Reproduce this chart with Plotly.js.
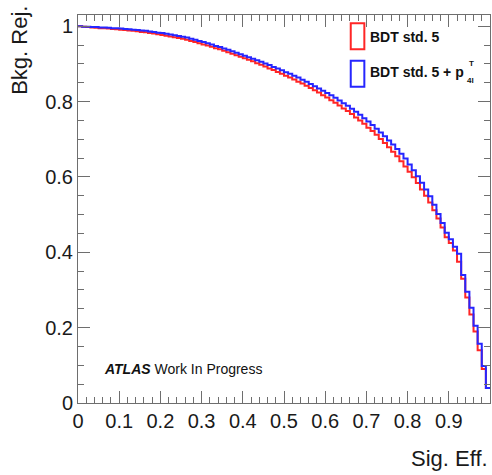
<!DOCTYPE html>
<html>
<head>
<meta charset="utf-8">
<script src="https://cdn.plot.ly/plotly-3.0.1.min.js"></script>
<style>html,body{margin:0;padding:0;background:#fff;}#chart{width:492px;height:475px;}</style>
</head>
<body>
<div id="chart"></div>
<script>
// Signal efficiency binning: 100 bins from 0 to 1
const nBins = 100;
const binLow = 0.0;
const binHigh = 1.0;

// Background rejection per bin, "BDT std. 5" (red)
const rejBDT = [
  1.000, 0.999, 0.998, 0.997, 0.996, 0.995, 0.995, 0.994, 0.993, 0.992,
  0.991, 0.990, 0.989, 0.988, 0.987, 0.985, 0.984, 0.982, 0.981, 0.979,
  0.977, 0.975, 0.973, 0.971, 0.969, 0.967, 0.964, 0.961, 0.958, 0.955,
  0.952, 0.949, 0.946, 0.942, 0.939, 0.935, 0.931, 0.927, 0.923, 0.919,
  0.915, 0.911, 0.907, 0.902, 0.898, 0.893, 0.888, 0.884, 0.879, 0.874,
  0.869, 0.864, 0.859, 0.853, 0.848, 0.842, 0.836, 0.830, 0.824, 0.817,
  0.811, 0.804, 0.797, 0.790, 0.782, 0.775, 0.767, 0.758, 0.750, 0.741,
  0.731, 0.722, 0.712, 0.701, 0.690, 0.679, 0.667, 0.655, 0.642, 0.628,
  0.614, 0.599, 0.584, 0.567, 0.550, 0.532, 0.512, 0.490, 0.466, 0.440,
  0.425, 0.405, 0.375, 0.330, 0.280, 0.235, 0.190, 0.140, 0.090, 0.040
];

// Background rejection per bin, "BDT std. 5 + pT4l" (blue)
const rejBDTpT = [
  1.000, 0.999, 0.999, 0.998, 0.998, 0.997, 0.997, 0.996, 0.995, 0.995,
  0.994, 0.993, 0.992, 0.991, 0.990, 0.989, 0.988, 0.986, 0.985, 0.983,
  0.982, 0.980, 0.978, 0.976, 0.974, 0.972, 0.970, 0.967, 0.964, 0.961,
  0.958, 0.955, 0.952, 0.948, 0.945, 0.941, 0.938, 0.934, 0.930, 0.926,
  0.922, 0.918, 0.914, 0.910, 0.906, 0.901, 0.897, 0.892, 0.888, 0.883,
  0.878, 0.874, 0.869, 0.864, 0.858, 0.853, 0.847, 0.841, 0.835, 0.829,
  0.823, 0.817, 0.810, 0.803, 0.796, 0.789, 0.781, 0.773, 0.765, 0.756,
  0.747, 0.738, 0.728, 0.718, 0.708, 0.697, 0.686, 0.674, 0.662, 0.649,
  0.633, 0.618, 0.602, 0.585, 0.567, 0.549, 0.526, 0.502, 0.478, 0.452,
  0.435, 0.415, 0.396, 0.340, 0.295, 0.253, 0.205, 0.157, 0.098, 0.040
];

const seriesNames = ["BDT std. 5", "BDT std. 5 + p"];
const xTitle = "Sig. Eff.";
const yTitle = "Bkg. Rej.";
const tag = "<b><i>ATLAS</i></b> Work In Progress";

function stepXY(vals) {
  const w = (binHigh - binLow) / nBins;
  const xs = [], ys = [];
  for (let i = 0; i < vals.length; i++) { xs.push(binLow + i * w); ys.push(vals[i]); }
  xs.push(binHigh); ys.push(vals[vals.length - 1]);
  return {xs, ys};
}

const red = stepXY(rejBDT);
const blue = stepXY(rejBDTpT);
const RED = "#ff2626", BLUE = "#2626ff";
const FONT = "Liberation Sans, Arial, Helvetica, sans-serif";

const traces = [
  {x: red.xs, y: red.ys, type: "scatter", mode: "lines", line: {shape: "hv", color: RED, width: 2}, name: seriesNames[0], showlegend: false},
  {x: blue.xs, y: blue.ys, type: "scatter", mode: "lines", line: {shape: "hv", color: BLUE, width: 2}, name: seriesNames[1], showlegend: false}
];

const axisCommon = {
  showgrid: false, zeroline: false, showline: true, linecolor: "#6e6e6e", linewidth: 1,
  mirror: "ticks", ticks: "inside", tickcolor: "#6e6e6e", tickwidth: 1, ticklen: 12,
  tickfont: {family: FONT, size: 20, color: "#1a1a1a"}
};

const layout = {
  width: 492, height: 475,
  margin: {l: 78, r: 2, t: 15, b: 72},
  paper_bgcolor: "#ffffff", plot_bgcolor: "#ffffff",
  showlegend: false,
  xaxis: Object.assign({}, axisCommon, {
    range: [0, 1], tick0: 0, dtick: 0.1, tickformat: "~g",
    minor: {dtick: 0.02, ticks: "inside", ticklen: 6, tickcolor: "#6e6e6e", tickwidth: 1}
  }),
  yaxis: Object.assign({}, axisCommon, {
    range: [0, 1.03], tick0: 0, dtick: 0.2, tickformat: "~g",
    minor: {dtick: 0.05, ticks: "inside", ticklen: 6, tickcolor: "#6e6e6e", tickwidth: 1}
  }),
  shapes: [
    {type: "rect", xref: "paper", yref: "paper", x0: 0.662, x1: 0.695, y0: 0.912, y1: 0.979, line: {color: RED, width: 2}},
    {type: "rect", xref: "paper", yref: "paper", x0: 0.662, x1: 0.695, y0: 0.815, y1: 0.882, line: {color: BLUE, width: 2}}
  ],
  annotations: [
    {xref: "paper", yref: "paper", x: 0.704, y: 0.943, xanchor: "left", yanchor: "middle", showarrow: false,
     text: "<b>" + seriesNames[0] + "</b>", font: {family: FONT, size: 14, color: "#111"}},
    {xref: "paper", yref: "paper", x: 0.704, y: 0.852, xanchor: "left", yanchor: "middle", showarrow: false,
     text: "<b>" + seriesNames[1] + "</b>", font: {family: FONT, size: 14, color: "#111"}},
    {xref: "paper", yref: "paper", x: 0.944, y: 0.874, xanchor: "left", yanchor: "middle", showarrow: false,
     text: "<b>T</b>", font: {family: FONT, size: 8, color: "#111"}},
    {xref: "paper", yref: "paper", x: 0.940, y: 0.830, xanchor: "left", yanchor: "middle", showarrow: false,
     text: "<b>4l</b>", font: {family: FONT, size: 8, color: "#111"}},
    {xref: "paper", yref: "paper", x: 0.058, y: 0.088, xanchor: "left", yanchor: "middle", showarrow: false,
     text: tag, font: {family: FONT, size: 14, color: "#111"}},
    {xref: "paper", yref: "paper", x: 1.0, y: -0.142, xanchor: "right", yanchor: "middle", showarrow: false,
     text: xTitle, font: {family: FONT, size: 22, color: "#1a1a1a"}},
    {xref: "paper", yref: "paper", x: -0.141, y: 0.91, xanchor: "center", yanchor: "middle", showarrow: false, textangle: -90,
     text: yTitle, font: {family: FONT, size: 22, color: "#1a1a1a"}}
  ]
};

Plotly.newPlot("chart", traces, layout, {displayModeBar: false, staticPlot: true});
</script>
</body>
</html>
